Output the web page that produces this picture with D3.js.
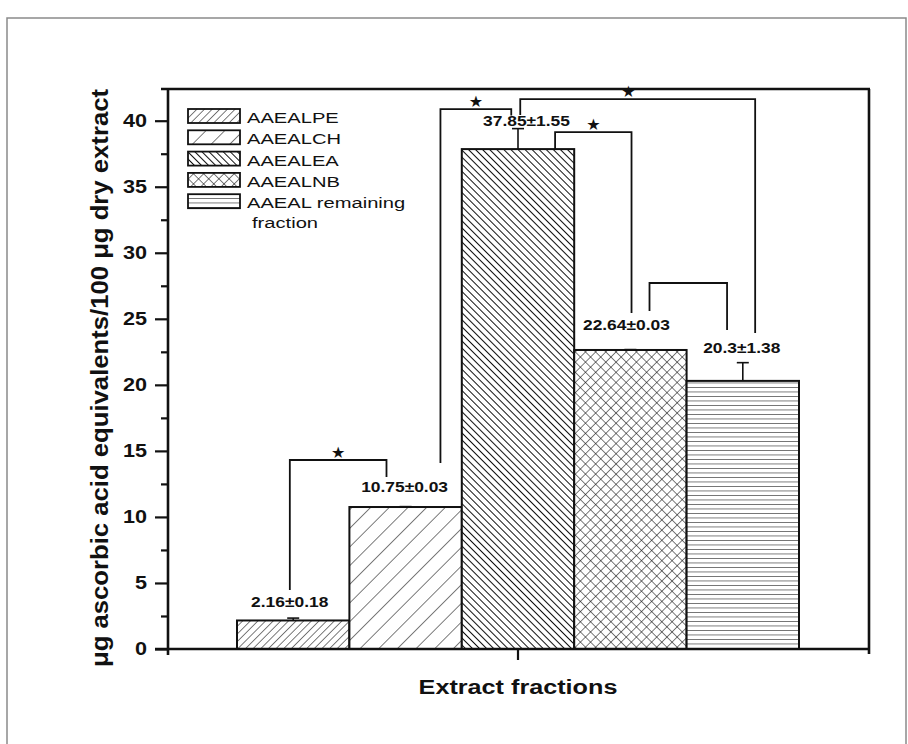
<!DOCTYPE html>
<html>
<head>
<meta charset="utf-8">
<script src="https://cdn.jsdelivr.net/npm/d3@7"></script>
<style>
  body { margin: 0; background: #fff; }
  text { font-family: "Liberation Sans", Arial, sans-serif; }
</style>
</head>
<body>
<svg id="chart" width="908" height="744"></svg>
<script>
// values
const fractions = ["AAEALPE", "AAEALCH", "AAEALEA", "AAEALNB", "AAEAL remaining fraction"];
const means = [2.16, 10.75, 37.85, 22.64, 20.3];
const errors = [0.18, 0.03, 1.55, 0.03, 1.38];
const valueLabels = ["2.16±0.18", "10.75±0.03", "37.85±1.55", "22.64±0.03", "20.3±1.38"];
const labelBase = [3.18, 11.89, 39.6, 24.15, 22.41];   // baseline of each value label, in y units
const labelShift = [-3.5, -1, 8.5, -4, -1];            // px off the bar centre
const yMajor = [0, 5, 10, 15, 20, 25, 30, 35, 40];
const yMinor = [2.5, 7.5, 12.5, 17.5, 22.5, 27.5, 32.5, 37.5];

// significance brackets: bar index + position inside that bar (0..1), heights in y units
const brackets = [
  {a: 0, aAt: 0.47, b: 1, bAt: 0.33, top: 14.31, aEnd: 4.47,  bEnd: 13.02, star: true},
  {a: 1, aAt: 0.81, b: 2, bAt: 0.44, top: 40.88, aEnd: 14.08, bEnd: 40.4,  star: true},
  {a: 2, aAt: 0.52, b: 4, bAt: 0.61, top: 41.64, aEnd: 40.43, bEnd: 23.92, star: true, starAt: 0.46},
  {a: 2, aAt: 0.83, b: 3, bAt: 0.51, top: 39.14, aEnd: 37.85, bEnd: 25.44, star: true},
  {a: 3, aAt: 0.67, b: 4, bAt: 0.36, top: 27.71, aEnd: 25.59, bEnd: 24.15, star: false}
];

const patternIds = ["pe", "ch", "ea", "nb", "rem"];

const svg = d3.select("#chart");
const plotLeft = 168, plotRight = 869, plotTop = 89, plotBottom = 649;

const y = d3.scaleLinear().domain([0, 42.4]).range([plotBottom, plotTop]);
const x = d3.scaleBand().domain(fractions).range([plotLeft + 69, plotLeft + 631]).padding(0);
const group = d3.scaleBand().domain(["all"]).range(x.range());

// outer figure border
svg.append("rect")
  .attr("x", 7).attr("y", 18).attr("width", 899).attr("height", 760)
  .attr("fill", "none").attr("stroke", "#8a8a8a").attr("stroke-width", 1.5);

// hatch patterns
const defs = svg.append("defs");
function hatch(id, size, angle, width, cross) {
  let p = defs.append("pattern")
    .attr("id", id)
    .attr("patternUnits", "userSpaceOnUse")
    .attr("width", size).attr("height", size)
    .attr("patternTransform", `rotate(${angle})`);
  p.append("rect").attr("width", size).attr("height", size).attr("fill", "#fff");
  p.append("line").attr("x1", 0).attr("y1", 0).attr("x2", 0).attr("y2", size)
    .attr("stroke", "#111").attr("stroke-width", width);
  if (cross) {
    p.append("line").attr("x1", 0).attr("y1", 0).attr("x2", size).attr("y2", 0)
      .attr("stroke", "#111").attr("stroke-width", width);
  }
}
hatch("pe", 5.4, 45, 1.1, false);
hatch("ch", 13.2, 45, 1.1, false);
hatch("ea", 5, -45, 2, false);
hatch("nb", 7.2, 45, 1.1, true);
hatch("rem", 4.5, 90, 1.1, false);

// bars
svg.append("g").selectAll("rect")
  .data(fractions)
  .join("rect")
  .attr("x", d => x(d))
  .attr("y", (d, i) => y(means[i]))
  .attr("width", x.bandwidth())
  .attr("height", (d, i) => y(0) - y(means[i]))
  .attr("fill", (d, i) => `url(#${patternIds[i]})`)
  .attr("stroke", "#111")
  .attr("stroke-width", 2);

// error bars (upper half only)
let eg = svg.append("g").attr("stroke", "#111").attr("stroke-width", 1.6);
fractions.forEach((d, i) => {
  let cx = x(d) + x.bandwidth() / 2;
  eg.append("line").attr("x1", cx).attr("x2", cx)
    .attr("y1", y(means[i])).attr("y2", y(means[i] + errors[i]));
  eg.append("line").attr("x1", cx - 6).attr("x2", cx + 6)
    .attr("y1", y(means[i] + errors[i])).attr("y2", y(means[i] + errors[i]));
});

// brackets
let bg = svg.append("g");
brackets.forEach(b => {
  let xa = x(fractions[b.a]) + b.aAt * x.bandwidth();
  let xb = x(fractions[b.b]) + b.bAt * x.bandwidth();
  bg.append("path")
    .attr("d", `M${xa},${y(b.aEnd)}V${y(b.top)}H${xb}V${y(b.bEnd)}`)
    .attr("fill", "none").attr("stroke", "#111").attr("stroke-width", 1.8);
  if (b.star) {
    let t = b.starAt == null ? 0.5 : b.starAt;
    bg.append("text")
      .attr("x", xa + t * (xb - xa))
      .attr("y", y(b.top) - 2)
      .attr("text-anchor", "middle")
      .style("font-family", "DejaVu Sans, sans-serif")
      .style("font-size", "16px")
      .attr("fill", "#111")
      .text("★");
  }
});

// value labels
svg.append("g").selectAll("text")
  .data(valueLabels)
  .join("text")
  .attr("transform", (d, i) =>
    `translate(${x(fractions[i]) + x.bandwidth() / 2 + labelShift[i]},${y(labelBase[i])}) scale(1.2,1)`)
  .attr("text-anchor", "middle")
  .style("font-size", "14.5px")
  .style("font-weight", "bold")
  .attr("fill", "#111")
  .text(d => d);

// axes frame
let frame = svg.append("g").attr("stroke", "#111").attr("stroke-width", 2.6).attr("fill", "none");
frame.append("line").attr("x1", plotLeft).attr("x2", plotLeft).attr("y1", plotTop).attr("y2", plotBottom + 6);
frame.append("line").attr("x1", plotRight).attr("x2", plotRight).attr("y1", plotTop).attr("y2", plotBottom + 5);
frame.append("line").attr("x1", plotLeft - 13).attr("x2", plotRight + 1).attr("y1", plotBottom).attr("y2", plotBottom);
frame.append("line").attr("x1", plotLeft - 7).attr("x2", plotRight + 1).attr("y1", plotTop).attr("y2", plotTop);

// y axis
let yAxis = svg.append("g").attr("transform", `translate(${plotLeft},0)`)
  .call(d3.axisLeft(y).tickValues(yMajor).tickSize(13).tickPadding(7).tickFormat(d3.format("d")));
yAxis.select(".domain").remove();
yAxis.selectAll(".tick line").attr("stroke", "#111").attr("stroke-width", 2.2);
yAxis.selectAll(".tick text")
  .attr("transform", "scale(1.2,1)")
  .attr("x", -21 / 1.2)
  .style("font-size", "18px")
  .style("font-weight", "bold")
  .style("font-family", "'Liberation Sans', Arial, sans-serif")
  .attr("fill", "#111");

let yMinorAxis = svg.append("g").attr("transform", `translate(${plotLeft},0)`)
  .call(d3.axisLeft(y).tickValues(yMinor).tickSize(7).tickFormat(""));
yMinorAxis.select(".domain").remove();
yMinorAxis.selectAll(".tick line").attr("stroke", "#111").attr("stroke-width", 2.2);

// x axis: one tick under the group
let xAxis = svg.append("g").attr("transform", `translate(0,${plotBottom})`)
  .call(d3.axisBottom(group).tickSize(11).tickFormat(""));
xAxis.select(".domain").remove();
xAxis.selectAll(".tick line").attr("stroke", "#111").attr("stroke-width", 2.2);

// axis titles
svg.append("text")
  .attr("transform", `translate(${group("all") + group.bandwidth() / 2},694) scale(1.2,1)`)
  .attr("text-anchor", "middle")
  .style("font-size", "21px")
  .style("font-weight", "bold")
  .attr("fill", "#111")
  .text("Extract fractions");

svg.append("text")
  .attr("transform", `translate(108,${(plotTop + plotBottom) / 2 + 9}) rotate(-90)`)
  .attr("text-anchor", "middle")
  .attr("textLength", 578)
  .attr("lengthAdjust", "spacingAndGlyphs")
  .style("font-size", "24px")
  .style("font-weight", "bold")
  .attr("fill", "#111")
  .text("μg ascorbic acid equivalents/100 μg dry extract");

// legend
let legend = svg.append("g");
fractions.forEach((d, i) => {
  let ly = 109 + i * 21.3;
  legend.append("rect")
    .attr("x", 188).attr("y", ly).attr("width", 52).attr("height", 14)
    .attr("fill", `url(#${patternIds[i]})`)
    .attr("stroke", "#111").attr("stroke-width", 1.8);
  let words = d === "AAEAL remaining fraction" ? ["AAEAL remaining", "fraction"] : [d];
  words.forEach((w, j) => {
    legend.append("text")
      .attr("transform", `translate(${247 + j * 5},${ly + 14 + j * 20}) scale(1.3,1)`)
      .style("font-size", "15.5px")
      .attr("fill", "#111")
      .text(w);
  });
});
</script>
</body>
</html>
